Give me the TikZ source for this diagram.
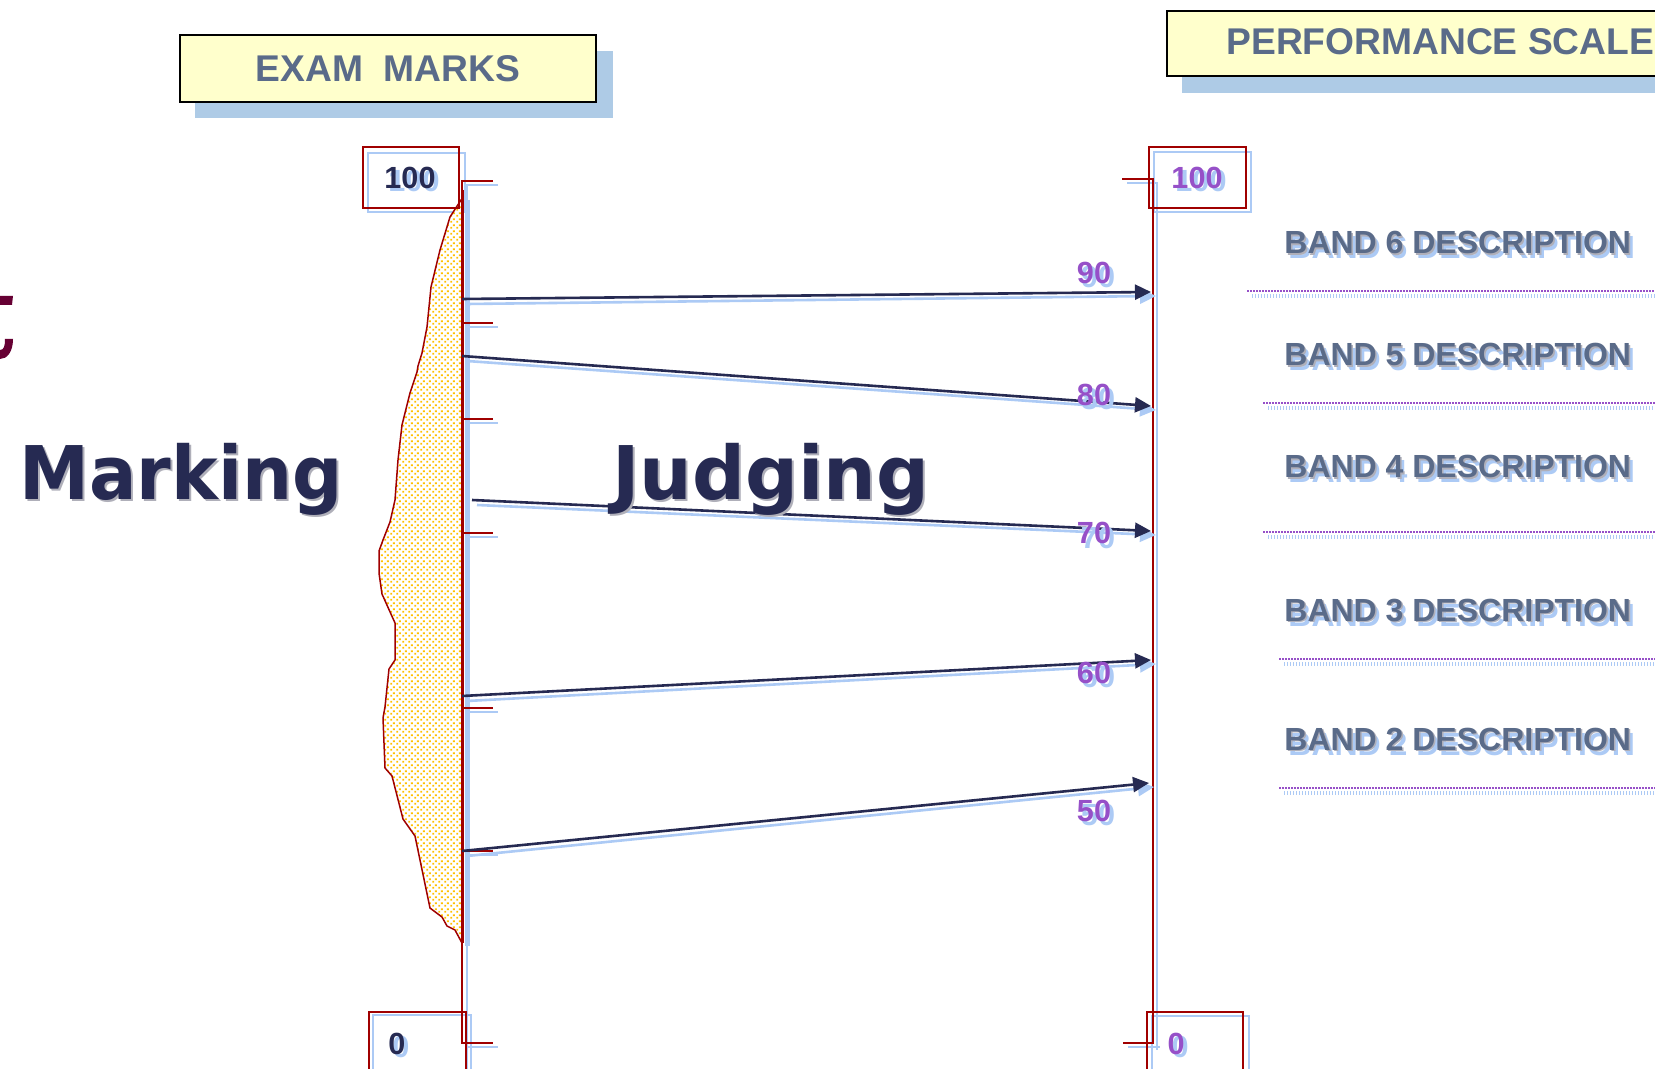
\documentclass[tikz,border=0pt]{standalone}
\usepackage{fontspec}
\setmainfont{Liberation Sans}
\newfontfamily\djv{DejaVu Sans}
\usetikzlibrary{arrows.meta,patterns}
\pgfdeclarepatternformonly{sqdots}{\pgfqpoint{0pt}{0pt}}{\pgfqpoint{3pt}{3pt}}{\pgfqpoint{3pt}{3pt}}{%
  \pgfpathrectangle{\pgfqpoint{0.2pt}{0.2pt}}{\pgfqpoint{1.05pt}{1.05pt}}%
  \pgfpathrectangle{\pgfqpoint{1.7pt}{1.7pt}}{\pgfqpoint{1.05pt}{1.05pt}}%
  \pgfusepath{fill}}
\definecolor{navy}{RGB}{38,42,82}
\definecolor{axred}{RGB}{160,0,0}
\definecolor{shblue}{RGB}{172,202,245}
\definecolor{boxsh}{RGB}{174,203,230}
\definecolor{paleyel}{RGB}{255,255,204}
\definecolor{slate}{RGB}{90,107,137}
\definecolor{purp}{RGB}{150,80,200}
\definecolor{dotcol}{RGB}{255,192,0}
\definecolor{tmaroon}{RGB}{102,0,51}
\definecolor{softgrey}{RGB}{175,175,185}
\tikzset{
  titlebox/.style={draw=black, line width=1pt, fill=paleyel},
  titletext/.style={font=\bfseries\fontsize{18.6}{19}\selectfont, text=slate, inner sep=0},
  band/.style={font=\bfseries\fontsize{16}{16}\selectfont, text=slate, anchor=base west, inner sep=0},
  bandsh/.style={band, text=shblue},
  bandgr/.style={band, text=softgrey},
  num/.style={font=\bfseries\fontsize{15.3}{15}\selectfont, text=purp, anchor=base, inner sep=0},
  numsh/.style={num, text=shblue},
  dark/.style={font=\bfseries\fontsize{15.3}{15}\selectfont, text=navy, anchor=base, inner sep=0},
  big/.style={font=\djv\bfseries\fontsize{37}{37}\selectfont, text=navy, anchor=base west, inner sep=0},
  bigsh/.style={big, text=softgrey},
  arr/.style={draw=navy, line width=1.3pt, -{Triangle[length=8pt,width=7.5pt]}},
  arrsh/.style={draw=shblue, line width=1.3pt, -{Triangle[length=8pt,width=7.5pt]}},
  redln/.style={draw=axred, line width=0.8pt},
  blueln/.style={draw=shblue, line width=0.9pt},
  banddots/.style={draw=purp, line width=1.1pt, dash pattern=on 0.8pt off 0.7pt},
  banddotssh/.style={draw=shblue, line width=1.6pt, dash pattern=on 0.7pt off 0.8pt},
}
\begin{document}
\begin{tikzpicture}[x=0.5pt,y=-0.5pt]
\useasboundingbox (0,0) rectangle (1655,1069);
\clip (0,0) rectangle (1655,1069);
\fill[white] (0,0) rectangle (1655,1069);

% partial letter at the left edge
\fill[tmaroon] (0,296) -- (13,296) -- (12,305) -- (0,305) -- cycle;
\fill[tmaroon] (13,339) .. controls (13,352) and (7,359) .. (0,359) -- (0,350)
   .. controls (4,350) and (5,346) .. (5,339) -- cycle;

% title boxes
\fill[boxsh] (195,51) rectangle (613,118);
\draw[titlebox] (180,35) rectangle (596,102);
\node[titletext, anchor=base] (exam) at (388,82) {EXAM\ \ MARKS};
\fill[boxsh] (1182,26) rectangle (1700,93);
\draw[titlebox] (1167,11) rectangle (1700,76);
\node[titletext, anchor=base west] (perf) at (1226,55) {PERFORMANCE SCALE};

% ---------- left axis: shadows ----------
\draw[blueln] (498,185) -- (467,185) -- (467,1069);
\draw[shblue, line width=2.5pt] (467,200) -- (467,946);
\foreach \ty in {323,419,533,708,851,1043}
  \draw[blueln] (467,\ty+4) -- (498,\ty+4);
\draw[blueln] (368,153) rectangle (465,212);
\draw[blueln] (373,1015) rectangle (471,1085);

% mark distribution shape
\path[fill=white] (461,200) -- (450,217) -- (440,250) -- (431,287) -- (427,327) -- (422,353) -- (418,366)
  -- (417,372) -- (410,393) -- (402,425) -- (398,460) -- (395,500) -- (390,522) -- (383,540)
  -- (379,551) -- (379,573) -- (382,594) -- (395,623) -- (395,660) -- (389,669) -- (385,707)
  -- (383,718) -- (385,768) -- (392,776) -- (403,819) -- (415,836) -- (430,908) -- (442,917)
  -- (447,926) -- (455,930) -- (462,943) -- (462,200) -- cycle;
\draw[axred, line width=0.75pt, pattern=sqdots, pattern color=dotcol]
  (461,200) -- (450,217) -- (440,250) -- (431,287) -- (427,327) -- (422,353) -- (418,366)
  -- (417,372) -- (410,393) -- (402,425) -- (398,460) -- (395,500) -- (390,522) -- (383,540)
  -- (379,551) -- (379,573) -- (382,594) -- (395,623) -- (395,660) -- (389,669) -- (385,707)
  -- (383,718) -- (385,768) -- (392,776) -- (403,819) -- (415,836) -- (430,908) -- (442,917)
  -- (447,926) -- (455,930) -- (462,943) -- (462,200) -- cycle;

% left axis red
\draw[redln] (493,181) -- (462,181) -- (462,1043) -- (493,1043);
\draw[axred, line width=1.5pt] (462,190) -- (462,943);
\foreach \ty in {323,419,533,708,851}
  \draw[redln] (462,\ty) -- (493,\ty);
\draw[axred, line width=0.8pt] (363,147) rectangle (459,208);
\draw[axred, line width=0.8pt] (369,1012) rectangle (466,1085);

% ---------- right axis ----------
\draw[blueln] (1127,183) -- (1157,183) -- (1157,1050);
\draw[blueln] (1128,1047) -- (1160,1047);
\draw[blueln] (1154,152) rectangle (1251,212);
\draw[blueln] (1152,1016) rectangle (1249,1085);
\draw[redln] (1122,179) -- (1153,179) -- (1153,1043) -- (1123,1043);
\draw[axred, line width=0.8pt] (1149,147) rectangle (1246,208);
\draw[axred, line width=0.8pt] (1147,1012) rectangle (1243,1085);

% axis end labels
\node[dark, text=shblue] (l100s) at (414,192) {100};
\node[dark] (l100) at (410,189) {100};
\node[dark, text=shblue] (l0s) at (401,1057) {0};
\node[dark] (l0) at (397,1054) {0};
\node[numsh] (r100s) at (1201,192) {100};
\node[num] (r100) at (1197,189) {100};
\node[numsh] (r0s) at (1180,1057) {0};
\node[num] (r0) at (1176,1054) {0};

% ---------- connectors ----------
\coordinate (s90) at (462,299);  \coordinate (e90) at (1151,292);
\coordinate (s80) at (462,356);  \coordinate (e80) at (1151,406);
\coordinate (s70) at (472,500);  \coordinate (e70) at (1151,531);
\coordinate (s60) at (462,696);  \coordinate (e60) at (1151,660);
\coordinate (s50) at (462,851);  \coordinate (e50) at (1149,783);
\foreach \v in {90,80,70,60,50}
  \draw[arrsh] ([shift={(5,5)}]s\v) -- ([shift={(5,4)}]e\v);
\foreach \v in {90,80,70,60,50}
  \draw[arr] (s\v) -- (e\v);

% scale numbers
\node[numsh] (n90s) at (1098,288) {90};  \node[num] (n90) at (1094,284) {90};
\node[numsh] (n80s) at (1098,410) {80};  \node[num] (n80) at (1094,406) {80};
\node[numsh] (n70s) at (1098,548) {70};  \node[num] (n70) at (1094,544) {70};
\node[numsh] (n60s) at (1098,687) {60};  \node[num] (n60) at (1094,683) {60};
\node[numsh] (n50s) at (1098,825) {50};  \node[num] (n50) at (1094,821) {50};

% big words
\node[bigsh, xscale=0.95] (marks) at (21,502) {Marking};
\node[big, xscale=0.95] (mark) at (19,500) {Marking};
\node[bigsh] (judgs) at (614,502) {Judging};
\node[big] (judg) at (612,500) {Judging};

% band descriptions
\foreach \b/\yy/\ly/\lx in {6/254/291/1247, 5/366/403/1263, 4/478/532/1263, 3/621/659/1279, 2/750/788/1279}{
  \draw[banddotssh] (\lx+5,\ly+5) -- (1655,\ly+5);
  \draw[banddots] (\lx,\ly) -- (1655,\ly);
  \node[bandsh] (b\b s) at (1288,\yy+5) {BAND \b\ DESCRIPTION};
  \node[bandgr] (b\b g) at (1285.5,\yy+1.5) {BAND \b\ DESCRIPTION};
  \node[band] (b\b) at (1284,\yy) {BAND \b\ DESCRIPTION};
}
\end{tikzpicture}
\end{document}
